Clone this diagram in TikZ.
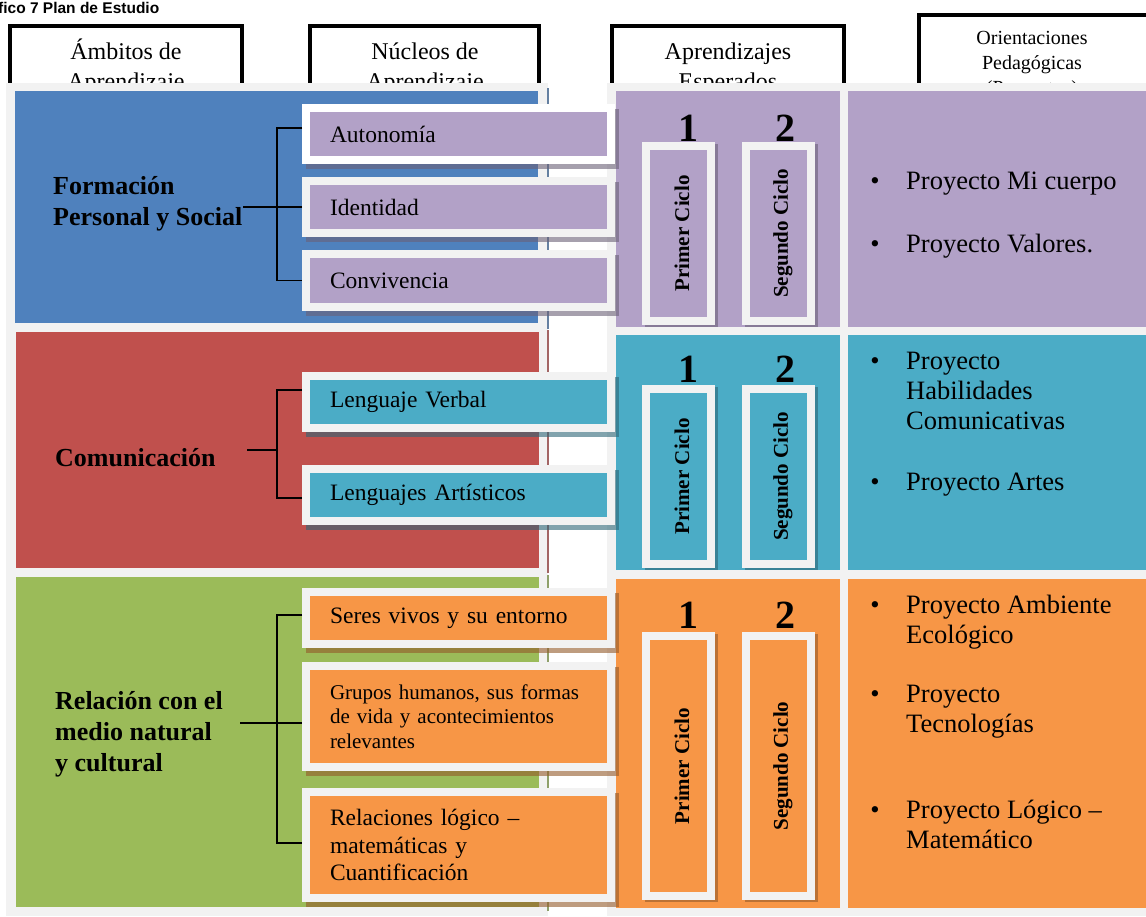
\documentclass[tikz,border=0pt]{standalone}
\usepackage{fontspec}
\setmainfont{Liberation Serif}
\newfontfamily\titlefont{Liberation Sans}
\definecolor{cblue}{HTML}{4F81BD}
\definecolor{cred}{HTML}{C0504D}
\definecolor{cgreen}{HTML}{9BBB59}
\definecolor{cpurple}{HTML}{B2A1C7}
\definecolor{cteal}{HTML}{4BACC6}
\definecolor{corange}{HTML}{F79646}
\definecolor{cgray}{HTML}{F2F2F2}
\newcommand\mlines[1]{\begin{tabular}[t]{@{}l@{}}#1\end{tabular}}
\newcommand\mlinesc[1]{\begin{tabular}[t]{@{}c@{}}#1\end{tabular}}
\begin{document}
\begin{tikzpicture}[x=1pt,y=-1pt,
  hdr/.style={draw=black, line width=3.5pt, fill=white},
  hdrtext/.style={inner sep=0, anchor=base, font=\fontsize{24}{30}\selectfont},
  ambito/.style={inner sep=0, anchor=base west, font=\bfseries\fontsize{26}{31}\selectfont},
  nuc/.style={draw=cgray, line width=8pt, fill=#1, inner xsep=24pt, inner ysep=0pt,
    anchor=north west, minimum width=305pt, text width=257pt, align=left,
    font=\fontsize{23.5}{27.5}\selectfont},
  shd/.style={fill=#1!60!black, opacity=0.6},
  br/.style={draw=black, line width=1.6pt},
  sep/.style={line width=1.5pt, draw=#1!55!gray},
  digit/.style={inner sep=0, font=\bfseries\fontsize{40}{44}\selectfont},
  ciclo/.style={draw=cgray, line width=8pt, fill=#1, minimum width=65pt, anchor=north west, inner sep=0},
  cyc/.style={rotate=90, inner sep=0, font=\bfseries\fontsize{21}{25}\selectfont},
  proj/.style={inner sep=0, anchor=base west, font=\fontsize{26.5}{30}\selectfont},
  bul/.style={inner sep=0, anchor=base, font=\fontsize{26.5}{30}\selectfont}]
\useasboundingbox (0,0) rectangle (1146,916);
\clip (0,0) rectangle (1146,916);
\fill[white] (0,0) rectangle (1146,916);
% title
\node[inner sep=0, anchor=base west, font=\titlefont\bfseries\fontsize{15.5}{18}\selectfont] (title) at (-2,13) {fico 7 Plan de Estudio};
% header boxes
\draw[hdr] (10,26) rectangle (242,150);
\draw[hdr] (310,26) rectangle (539,150);
\draw[hdr] (612,26) rectangle (844,150);
\draw[hdr] (919,15) rectangle (1160,150);
\node[hdrtext] (h1) at (126,59) {\mlinesc{Ámbitos de\\Aprendizaje}};
\node[hdrtext] (h2) at (425,59) {\mlinesc{Núcleos de\\Aprendizaje}};
\node[hdrtext] (h3) at (728,59) {\mlinesc{Aprendizajes\\Esperados}};
\node[hdrtext, font=\fontsize{20}{25}\selectfont] (h4) at (1032,44) {\mlinesc{Orientaciones\\Pedagógicas\\(Proyectos)}};
% backdrops
\fill[cgray] (6,83) rectangle (548,916);
\fill[white] (548,83) rectangle (607,916);
\fill[cgray] (607,83) rectangle (1146,916);
% left panels
\fill[cblue] (15,91) rectangle (538,323);
\fill[cred] (16,332) rectangle (539,568);
\fill[cgreen] (16,577) rectangle (539,907);
\draw[sep=cblue] (548,88) -- (548,329);
\draw[sep=cred] (548,330) -- (548,573);
\draw[sep=cgreen] (548,575) -- (548,911);
% right panels
\fill[cpurple] (616,91) rectangle (840,327);
\fill[cpurple] (848,91) rectangle (1146,327);
\fill[cteal] (616,335) rectangle (840,570);
\fill[cteal] (848,335) rectangle (1146,570);
\fill[corange] (616,579) rectangle (840,908);
\fill[corange] (848,579) rectangle (1146,908);
% nucleos shadows
\fill[shd=cpurple] (306,109) rectangle (619,169);
\fill[shd=cpurple] (306,182) rectangle (619,242);
\fill[shd=cpurple] (306,255) rectangle (619,316);
\fill[shd=cteal] (306,377) rectangle (619,437);
\fill[shd=cteal] (306,470) rectangle (619,530);
\fill[shd=corange] (306,593) rectangle (619,653);
\fill[shd=corange] (306,667) rectangle (619,776);
\fill[shd=corange] (306,793) rectangle (619,907);
% nucleos
\node[nuc=cpurple, draw=white, minimum height=52pt] (aut) at (302,104) {Autonomía};
\node[nuc=cpurple, minimum height=52pt] (ide) at (302,177) {Identidad};
\node[nuc=cpurple, minimum height=53pt] (con) at (302,250) {Convivencia};
\node[nuc=cteal, minimum height=52pt] (lv) at (302,372) {Lenguaje Verbal};
\node[nuc=cteal, minimum height=52pt] (la) at (302,465) {Lenguajes Artísticos};
\node[nuc=corange, minimum height=52pt] (sv) at (302,588) {Seres vivos y su entorno};
\node[nuc=corange, minimum height=101pt, font=\fontsize{21}{24.5}\selectfont] (gh) at (302,662) {Grupos humanos, sus formas\\de vida y acontecimientos\\relevantes};
\node[nuc=corange, minimum height=106pt] (rl) at (302,788) {Relaciones lógico –\\matemáticas y\\Cuantificación};
% ambitos
\node[ambito] (fps) at (53,194) {\mlines{Formación\\Personal y Social}};
\node[ambito] (com) at (55,466) {Comunicación};
\node[ambito] (rel) at (55,709) {\mlines{Relación con el\\medio natural\\y cultural}};
% brackets
\draw[br] ([yshift=6pt]aut.west) -| ([xshift=-25pt]ide.west) |- (con.west);
\draw[br] (ide.west) -- (ide.west -| fps.east);
\draw[br] ([yshift=12pt]lv.west) -- ++(-25,0) |- ([yshift=-3pt]la.west);
\coordinate (coms) at (247,450);
\draw[br] (coms) -- ++(30,0);
\draw[br] ([yshift=3pt]sv.west) -- ++(-25,0) |- ([yshift=2pt]rl.west);
\coordinate (rels) at (240,723);
\draw[br] (rels) -- (rels -| gh.west);
% digits
\node[digit] (d1a) at (688,128) {1};
\node[digit] (d2a) at (785,128) {2};
\node[digit] (d1b) at (688,369) {1};
\node[digit] (d2b) at (785,369) {2};
\node[digit] (d1c) at (688,615) {1};
\node[digit] (d2c) at (785,615) {2};
% ciclos
\fill[shd=cpurple] (645,144) rectangle (718,327);
\fill[shd=cpurple] (745,144) rectangle (818,327);
\fill[shd=cteal] (645,387) rectangle (718,570);
\fill[shd=cteal] (745,387) rectangle (818,570);
\fill[shd=corange] (645,634) rectangle (718,902);
\fill[shd=corange] (745,634) rectangle (818,902);
\node[ciclo=cpurple, minimum height=175pt] (p1) at (642,142) {};
\node[ciclo=cpurple, minimum height=175pt] (s1) at (742,142) {};
\node[ciclo=cteal, minimum height=175pt] (p2) at (642,385) {};
\node[ciclo=cteal, minimum height=175pt] (s2) at (742,385) {};
\node[ciclo=corange, minimum height=260pt] (p3) at (642,632) {};
\node[ciclo=corange, minimum height=260pt] (s3) at (742,632) {};
\node[cyc] (tp1) at ([xshift=3.5pt]p1.center) {Primer Ciclo};
\node[cyc] (ts1) at ([xshift=4.5pt]s1.center) {Segundo Ciclo};
\node[cyc] (tp2) at ([xshift=3.5pt]p2.center) {Primer Ciclo};
\node[cyc] (ts2) at ([xshift=4.5pt]s2.center) {Segundo Ciclo};
\node[cyc] (tp3) at ([xshift=3.5pt]p3.center) {Primer Ciclo};
\node[cyc] (ts3) at ([xshift=4.5pt]s3.center) {Segundo Ciclo};
% proyectos
\node[bul] (b1) at (875,189) {•};
\node[proj] (o1) at (906,189) {Proyecto Mi cuerpo};
\node[bul] (b2) at (875,252) {•};
\node[proj] (o2) at (906,252) {Proyecto Valores.};
\node[bul] (b3) at (875,369) {•};
\node[proj] (o3) at (906,369) {\mlines{Proyecto\\Habilidades\\Comunicativas}};
\node[bul] (b4) at (875,490) {•};
\node[proj] (o4) at (906,490) {Proyecto Artes};
\node[bul] (b5) at (875,613) {•};
\node[proj] (o5) at (906,613) {\mlines{Proyecto Ambiente\\Ecológico}};
\node[bul] (b6) at (875,702) {•};
\node[proj] (o6) at (906,702) {\mlines{Proyecto\\Tecnologías}};
\node[bul] (b7) at (875,818) {•};
\node[proj] (o7) at (906,818) {\mlines{Proyecto Lógico –\\Matemático}};
\end{tikzpicture}
\end{document}
